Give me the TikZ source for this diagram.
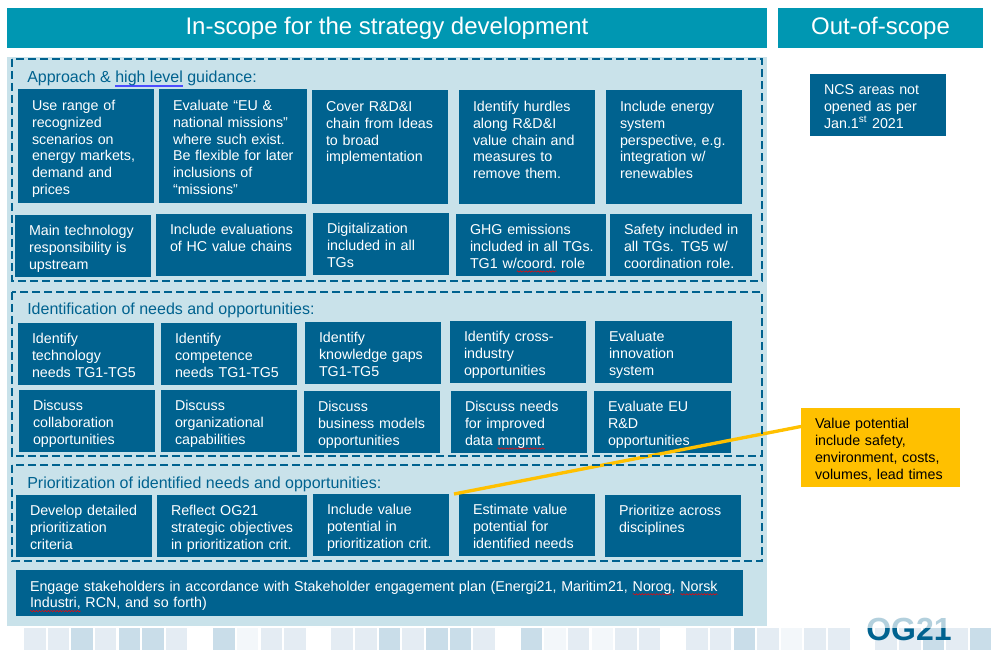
\documentclass[tikz,border=0pt]{standalone}
\usepackage{fontspec}
\setmainfont{Liberation Sans}
\usepackage{tikz}
\usetikzlibrary{positioning,decorations.pathmorphing}

\definecolor{headteal}{HTML}{0097B2}
\definecolor{panelblue}{HTML}{C9E2EA}
\definecolor{boxblue}{HTML}{00628F}
\definecolor{noteyellow}{HTML}{FFC000}
\definecolor{tilepale}{HTML}{E4ECF3}
\definecolor{tiledark}{HTML}{C9DDE9}
\definecolor{tilefaint}{HTML}{F3F7FA}

\newlength{\px}
\setlength{\px}{0.75pt}
\newlength{\wavelen}
\newcommand{\spell}[1]{\leavevmode\setbox0=\hbox{#1}\setlength{\wavelen}{\wd0}\rlap{\tikz[overlay, baseline=0pt, x=1pt, y=1pt]\draw[red, line width=0.35pt, decorate, decoration={zigzag, segment length=2.2pt, amplitude=0.55pt}] (0,-2.4) -- (\wavelen,-2.4);}\box0\relax}
\newcommand{\gram}[1]{\leavevmode\setbox0=\hbox{#1}\rlap{\color{blue!70}\lower1.9pt\hbox{\vrule width\wd0 height0.35pt depth0pt}}\rlap{\color{blue!70}\lower2.9pt\hbox{\vrule width\wd0 height0.35pt depth0pt}}\box0\relax}

\begin{document}
\begin{tikzpicture}[
  x=0.75pt, y=-0.75pt,
  box/.style={fill=boxblue, text=white, font=\fontsize{10.7}{12.6}\selectfont,
              align=left, outer sep=0pt, inner xsep=6\px, inner ysep=0pt,
              text width=#1\px-12\px,
              execute at begin node={\leftskip=8\px\rule{0pt}{18\px}},
              execute at end node={\rule[-5\px]{0pt}{1\px}}},
  box/.default=136,
  tall/.style={minimum height=114\px},
  low/.style={minimum height=62\px},
  head/.style={fill=headteal, text=white, minimum height=40\px, outer sep=0pt,
               font=\fontsize{18}{20}\selectfont},
  lab/.style={text=boxblue, anchor=base west, inner sep=0pt,
              font=\fontsize{12}{14}\selectfont},
  frame/.style={draw=boxblue, line width=2pt,
                dash pattern=on 6.2pt off 2.8pt},
  arr/.style={draw=noteyellow, line width=2.5pt}
]
  \path[use as bounding box, clip] (0,0) rectangle (991,655);

  \foreach \n/\c in {0/tilepale,1/tilepale,2/tiledark,3/tilepale,4/tiledark,
    5/tiledark,6/tilepale,8/tiledark,9/tilefaint,10/tilepale,11/tilepale,
    13/tilepale,14/tilepale,15/tiledark,16/tilepale,17/tiledark,18/tiledark,
    19/tilepale,21/tiledark,22/tilefaint,23/tilepale,24/tilefaint,25/tilepale,
    26/tilepale,28/tilepale,29/tilepale,30/tiledark,31/tilepale,32/tilefaint,
    33/tilepale,34/tilepale,36/tilepale,37/tilepale,38/tiledark,39/tilepale,
    40/tiledark}
    \fill[\c] (24+23.65*\n,628) rectangle (45.5+23.65*\n,650);

  \node[text=boxblue, inner sep=0pt, font=\fontsize{24}{24}\selectfont\bfseries]
    (logo) at (909,629.5) {OG21};
  \fill[white, opacity=0.7] (860,612) rectangle (955,628);

  \node[head, minimum width=760\px, anchor=north west] (inscope) at (7,8)
    {In-scope for the strategy development};
  \node[head, minimum width=205\px, right=11\px of inscope] (outscope)
    {Out-of-scope};

  \fill[panelblue] (7,57) rectangle (767,626);

  \node[lab] (approach) at (27,82.5)
    {Approach \& \gram{high level} guidance:};
  \node[lab] (needs) at (27,315) {Identification of needs and opportunities:};
  \node[lab] (prior) at (27,488) {Prioritization of identified needs and opportunities:};

  \node[box, tall, anchor=north west] (A1) at (18,89)
    {Use range of\\recognized\\scenarios on\\energy markets,\\demand and\\prices};
  \node[box=148, tall, right=5\px of A1] (A2)
    {Evaluate “EU \&\\national missions”\\where such exist.\\Be flexible for later\\inclusions of\\“missions”};
  \node[box, tall, right=5\px of A2, yshift=-0.75pt] (A3)
    {Cover R\&D\&I\\chain from Ideas\\to broad\\implementation\\\strut\\\strut};
  \node[box, tall, right=11\px of A3] (A4)
    {Identify hurdles\\along R\&D\&I\\value chain and\\measures to\\remove them.\\\strut};
  \node[box, tall, right=11\px of A4] (A5)
    {Include energy\\system\\perspective, e.g.\\integration w/\\renewables\\\strut};

  \node[box, low, anchor=north west] (B1) at (15,215)
    {Main technology\\responsibility is\\upstream};
  \node[box=150, low, right=5\px of B1, yshift=0.75pt] (B2)
    {Include evaluations\\of HC value chains\\\strut};
  \node[box, low, right=7\px of B2, yshift=0.75pt] (B3)
    {Digitalization\\included in all\\TGs};
  \node[box=150, low, right=7\px of B3, yshift=-0.75pt] (B4)
    {GHG emissions\\included in all TGs.\\TG1 w/\spell{coord.} role};
  \node[box=142, low, right=4\px of B4] (B5)
    {Safety included in\\all TGs. TG5 w/\\coordination role.};

  \node[box, low, anchor=north west] (C1) at (18,323)
    {Identify\\technology\\needs TG1-TG5};
  \node[box, low, right=7\px of C1] (C2)
    {Identify\\competence\\needs TG1-TG5};
  \node[box, low, right=8\px of C2, yshift=0.75pt] (C3)
    {Identify\\knowledge gaps\\TG1-TG5};
  \node[box, low, right=9\px of C3, yshift=0.75pt] (C4)
    {Identify cross-\\industry\\opportunities};
  \node[box=137, low, right=9\px of C4] (C5)
    {Evaluate\\innovation\\system};

  \node[box, low, anchor=north west] (D1) at (19,390)
    {Discuss\\collaboration\\opportunities};
  \node[box, low, right=6\px of D1] (D2)
    {Discuss\\organizational\\capabilities};
  \node[box, low, right=7\px of D2, yshift=-0.75pt] (D3)
    {Discuss\\business models\\opportunities};
  \node[box, low, right=11\px of D3] (D4)
    {Discuss needs\\for improved\\data \spell{mngmt.}};
  \node[box=137, low, right=7\px of D4] (D5)
    {Evaluate EU\\R\&D\\opportunities};

  \node[box, low, anchor=north west] (E1) at (16,495)
    {Develop detailed\\prioritization\\criteria};
  \node[box=150, low, right=5\px of E1] (E2)
    {Reflect OG21\\strategic objectives\\in prioritization crit.};
  \node[box, low, right=6\px of E2, yshift=0.75pt] (E3)
    {Include value\\potential in\\prioritization crit.};
  \node[box, low, right=10\px of E3] (E4)
    {Estimate value\\potential for\\identified needs};
  \node[box, low, right=10\px of E4, yshift=-0.75pt] (E5)
    {Prioritize across\\disciplines\\\strut};

  \node[box=727, minimum height=46\px, anchor=north west] (engage) at (16,570)
    {Engage stakeholders in accordance with Stakeholder engagement plan (Energi21, Maritim21, \spell{Norog}, \spell{Norsk}\\\spell{Industri,} RCN, and so forth)};

  \node[box, low, anchor=north west] (ncs) at (810,74)
    {NCS areas not\\opened as per\\Jan.1\textsuperscript{st} 2021};

  \node[box=159, fill=noteyellow, text=black, minimum height=79\px,
        anchor=north west] (value) at (801,408)
    {Value potential\\include safety,\\environment, costs,\\volumes, lead times};

  \draw[arr] ([xshift=5\px]E3.north east) -- ([yshift=21\px]value.west);

  \draw[frame] (12,59) rectangle (762,281);
  \draw[frame] (12,292) rectangle (762,456);
  \draw[frame] (12,465) rectangle (762,561);
\end{tikzpicture}
\end{document}
